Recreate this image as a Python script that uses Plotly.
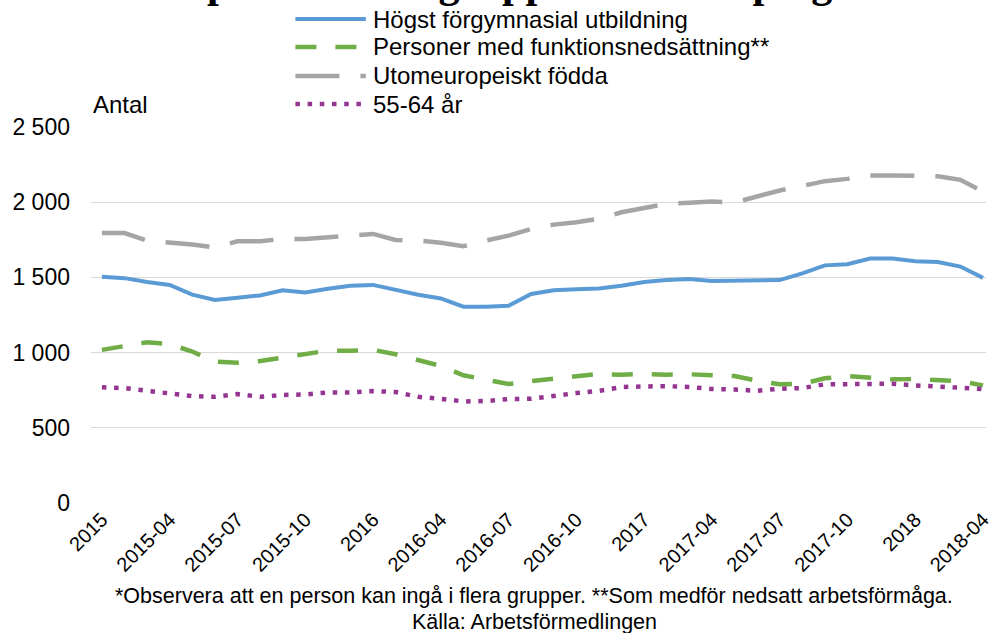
import plotly.graph_objects as go

months = [
    "2015-01", "2015-02", "2015-03", "2015-04", "2015-05", "2015-06", "2015-07", "2015-08",
    "2015-09", "2015-10", "2015-11", "2015-12", "2016-01", "2016-02", "2016-03", "2016-04",
    "2016-05", "2016-06", "2016-07", "2016-08", "2016-09", "2016-10", "2016-11", "2016-12",
    "2017-01", "2017-02", "2017-03", "2017-04", "2017-05", "2017-06", "2017-07", "2017-08",
    "2017-09", "2017-10", "2017-11", "2017-12", "2018-01", "2018-02", "2018-03", "2018-04",
]

forgymnasial = [1505, 1495, 1470, 1450, 1385, 1350, 1365, 1380, 1415, 1400, 1425, 1445, 1450, 1415,
                1385, 1360, 1305, 1305, 1312, 1390, 1415, 1422, 1427, 1444, 1470, 1482, 1490, 1476,
                1480, 1484, 1482, 1527, 1580, 1588, 1625, 1625, 1607, 1602, 1572, 1497]
funktionsned = [1018, 1045, 1069, 1056, 1007, 940, 933, 944, 969, 991, 1013, 1013, 1018, 989,
                951, 911, 849, 818, 791, 811, 827, 838, 858, 853, 858, 853, 856, 849,
                844, 813, 789, 793, 829, 844, 836, 822, 824, 820, 809, 782]
utomeuropeiskt = [1795, 1795, 1745, 1733, 1718, 1700, 1740, 1740, 1756, 1755, 1765, 1778, 1789, 1749,
                  1745, 1731, 1707, 1745, 1778, 1822, 1851, 1867, 1889, 1933, 1962, 1989, 1996, 2004,
                  1998, 2038, 2078, 2108, 2140, 2155, 2178, 2178, 2178, 2173, 2149, 2071]
aldre_55_64 = [769, 764, 746, 731, 711, 706, 724, 706, 718, 722, 735, 735, 744, 738,
               706, 693, 675, 678, 691, 693, 715, 731, 746, 771, 775, 777, 771, 758,
               755, 746, 760, 764, 789, 791, 795, 793, 782, 773, 769, 758]

series_names = [
    "Högst förgymnasial utbildning",
    "Personer med funktionsnedsättning**",
    "Utomeuropeiskt födda",
    "55-64 år",
]

x_tick_months = months[::3]
x_tick_labels = ["2015", "2015-04", "2015-07", "2015-10", "2016", "2016-04", "2016-07",
                 "2016-10", "2017", "2017-04", "2017-07", "2017-10", "2018", "2018-04"]
y_tick_values = [0, 500, 1000, 1500, 2000, 2500]
y_tick_labels = ["0", "500", "1 000", "1 500", "2 000", "2 500"]

title_text = "Sökande i prioriterade grupper i Norrköping"
footnote_text = "*Observera att en person kan ingå i flera grupper. **Som medför nedsatt arbetsförmåga."
source_text = "Källa: Arbetsförmedlingen"

colors = ["#5B9BD5", "#70AD47", "#A5A5A5", "#953592"]
widths = [4, 4.5, 4.5, 4.5]
dashes = ["solid", "21px,19px", "44px,21px", "4.5px,7.7px"]
values = [forgymnasial, funktionsned, utomeuropeiskt, aldre_55_64]

FONT = "Arial, 'Liberation Sans', sans-serif"

fig = go.Figure()
for idx in [2, 0, 1, 3]:
    fig.add_trace(go.Scatter(
        x=months, y=values[idx], mode="lines", name=series_names[idx],
        line=dict(color=colors[idx], width=widths[idx], dash=dashes[idx]),
        showlegend=False,
    ))

L, R, T, B = 91, 0, 127, 130
W, H = 993, 633
pw, ph = W - L - R, H - T - B

def px(xp):
    return (xp - L) / pw

def py(yp):
    return (H - B - yp) / ph

shapes = []
annotations = []
legend_rows_y = [19, 47, 76, 104]
for i, yrow in enumerate(legend_rows_y):
    shapes.append(dict(type="line", xref="paper", yref="paper",
                       x0=px(297), x1=px(368), y0=py(yrow), y1=py(yrow),
                       line=dict(color=colors[i], width=widths[i], dash=dashes[i])))
    annotations.append(dict(text=series_names[i], xref="paper", yref="paper",
                            x=px(373), y=py(yrow), xanchor="left", yanchor="middle",
                            showarrow=False, font=dict(family=FONT, size=24, color="#000000")))

annotations.append(dict(text="Antal", xref="paper", yref="paper", x=px(91), y=py(105),
                        xanchor="left", yanchor="middle", showarrow=False,
                        font=dict(family=FONT, size=24, color="#000000")))
annotations.append(dict(text=footnote_text, xref="paper", yref="paper", x=px(537), y=py(596),
                        xanchor="center", yanchor="middle", showarrow=False,
                        font=dict(family=FONT, size=21.5, color="#000000")))
annotations.append(dict(text=source_text, xref="paper", yref="paper", x=px(538), y=py(622),
                        xanchor="center", yanchor="middle", showarrow=False,
                        font=dict(family=FONT, size=21.5, color="#000000")))
annotations.append(dict(text="<b>" + title_text + "</b>", xref="paper", yref="paper",
                        x=px(16), y=py(8), xanchor="left", yanchor="bottom", showarrow=False,
                        font=dict(family="'Times New Roman', 'Liberation Serif', serif", size=42.3,
                                  color="#000000")))

fig.update_layout(
    width=W, height=H,
    margin=dict(l=L, r=R, t=T, b=B, pad=0),
    paper_bgcolor="white", plot_bgcolor="white",
    shapes=shapes, annotations=annotations,
    showlegend=False,
    font=dict(family=FONT, size=23, color="#000000"),
)
fig.update_xaxes(
    type="category", range=[-0.483, 39.132],
    tickmode="array", tickvals=x_tick_months, ticktext=x_tick_labels,
    tickangle=-45, showgrid=False, zeroline=False, showline=False, ticks="",
    tickfont=dict(family=FONT, size=20, color="#000000"),
)
fig.update_yaxes(
    range=[0, 2500], tickmode="array", tickvals=y_tick_values, ticktext=y_tick_labels,
    showgrid=True, gridcolor="#D9D9D9", gridwidth=1.3, zeroline=False, showline=False, ticks="",
    ticklabelstandoff=20,
    tickfont=dict(family=FONT, size=23, color="#000000"),
)

fig.write_html("out.html", config={"displayModeBar": False},
               post_script="document.body.style.margin='0';")
